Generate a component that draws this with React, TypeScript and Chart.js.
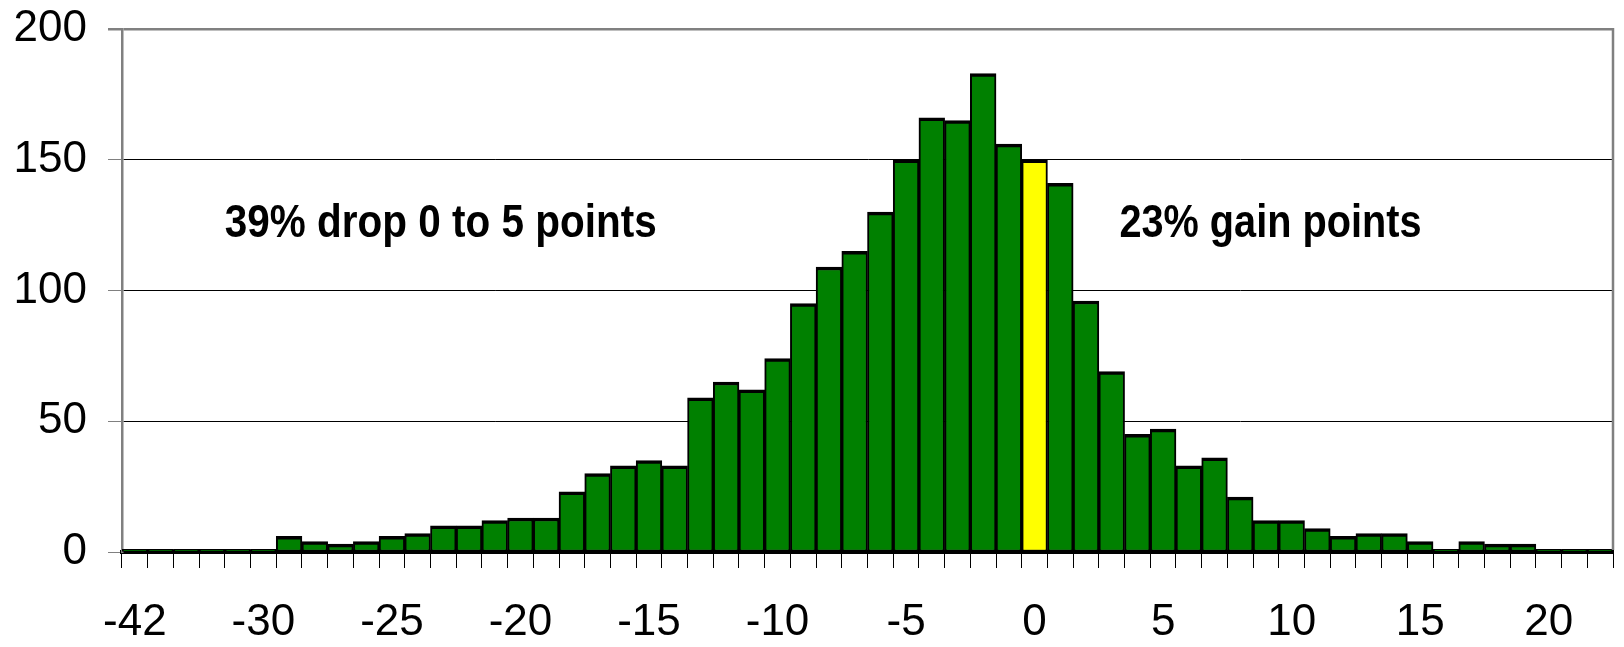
import React, { useEffect, useRef } from 'react';
import { Chart, registerables } from 'chart.js';

Chart.register(...registerables);

const categories = [
  '-42', '-34', '-33', '-32', '-31', '-30', '-29', '-28', '-27', '-26',
  '-25', '-24', '-23', '-22', '-21', '-20', '-19', '-18', '-17', '-16',
  '-15', '-14', '-13', '-12', '-11', '-10', '-9', '-8', '-7', '-6',
  '-5', '-4', '-3', '-2', '-1', '0', '1', '2', '3', '4',
  '5', '6', '7', '8', '9', '10', '11', '12', '13', '14',
  '15', '16', '17', '18', '19', '20', '21', '22',
];

const counts = [
  1, 1, 1, 1, 1, 1, 6, 4, 3, 4,
  6, 7, 10, 10, 12, 13, 13, 23, 30, 33,
  35, 33, 59, 65, 62, 74, 95, 109, 115, 130,
  150, 166, 165, 183, 156, 150, 141, 96, 69, 45,
  47, 33, 36, 21, 12, 12, 9, 6, 7, 7,
  4, 1, 4, 3, 3, 1, 1, 1,
];

const shownTickLabels = ['-42', '-30', '-25', '-20', '-15', '-10', '-5', '0', '5', '10', '15', '20'];
const highlightCategory = '0';
const yMin = 0;
const yMax = 200;
const yStep = 50;
const leftNote = '39% drop 0 to 5 points';
const rightNote = '23% gain points';

const FONT = '"Liberation Sans", Arial, Helvetica, sans-serif';
const GREEN = '#008000';
const YELLOW = '#FFFF00';
const GRAY = '#808080';

const overlayPlugin = {
  id: 'overlay',
  afterDraw(chart: any) {
    const { ctx, chartArea, scales } = chart;
    const x = scales.x;
    const y = scales.y;
    const step = x.getPixelForValue(1) - x.getPixelForValue(0);
    ctx.save();
    ctx.strokeStyle = GRAY;
    ctx.lineWidth = 2.5;
    ctx.beginPath();
    ctx.moveTo(chartArea.right, chartArea.top - 1);
    ctx.lineTo(chartArea.right, chartArea.bottom - 2);
    ctx.stroke();
    ctx.fillStyle = '#000';
    ctx.font = `bold 46px ${FONT}`;
    ctx.textAlign = 'left';
    ctx.textBaseline = 'alphabetic';
    const base = y.getPixelForValue(120.6);
    ctx.fillText(leftNote, x.getPixelForValue(3.5), base, step * 16.8);
    ctx.fillText(rightNote, x.getPixelForValue(38.3), base, step * 11.75);
    ctx.restore();
  },
};

export default function App() {
  const canvasRef = useRef<HTMLCanvasElement | null>(null);

  useEffect(() => {
    if (!canvasRef.current) return;
    const chart = new Chart(canvasRef.current, {
      type: 'bar',
      data: {
        labels: categories,
        datasets: [
          {
            data: counts,
            backgroundColor: categories.map((c) => (c === highlightCategory ? YELLOW : GREEN)),
            borderColor: '#000',
            borderWidth: { top: 3.5, left: 2, right: 2, bottom: 2 },
            borderSkipped: false,
            barPercentage: 1,
            categoryPercentage: 1,
          },
        ],
      },
      options: {
        responsive: false,
        animation: false,
        layout: { padding: { top: 29, left: 14, right: 11, bottom: 0 } },
        plugins: {
          legend: { display: false },
          tooltip: { enabled: false },
          title: { display: false },
        },
        scales: {
          x: {
            type: 'category',
            offset: true,
            z: 1,
            afterFit: (s: any) => {
              s.height = 95;
              s.paddingLeft = 0;
              s.paddingRight = 0;
            },
            grid: {
              display: true,
              offset: true,
              drawOnChartArea: false,
              drawTicks: true,
              tickLength: 16,
              color: '#000',
              lineWidth: 1,
            },
            border: { display: true, color: '#000', width: 4 },
            ticks: {
              autoSkip: false,
              maxRotation: 0,
              minRotation: 0,
              padding: 28,
              color: '#000',
              font: { family: FONT, size: 44 },
              callback: function (this: any, value: any) {
                const lab = this.getLabelForValue(value);
                return shownTickLabels.includes(lab) ? lab : '';
              },
            },
          },
          y: {
            min: yMin,
            max: yMax,
            afterFit: (s: any) => {
              s.width = 108;
              s.paddingTop = 0;
              s.paddingBottom = 0;
            },
            grid: {
              color: (c: any) => (c.tick && c.tick.value === yMax ? GRAY : '#000'),
              lineWidth: (c: any) => (c.tick && c.tick.value === yMax ? 2.5 : 1),
              tickColor: GRAY,
              tickLength: 14,
            },
            border: { display: true, color: GRAY, width: 2.5 },
            ticks: {
              stepSize: yStep,
              padding: 21,
              color: '#000',
              font: { family: FONT, size: 44 },
            },
          },
        },
      },
      plugins: [overlayPlugin],
    });
    return () => chart.destroy();
  }, []);

  return (
    <div style={{ position: 'absolute', left: 0, top: 0, width: 1624, height: 647, background: '#fff' }}>
      <canvas ref={canvasRef} width={1624} height={647} style={{ display: 'block', width: 1624, height: 647 }} />
    </div>
  );
}
